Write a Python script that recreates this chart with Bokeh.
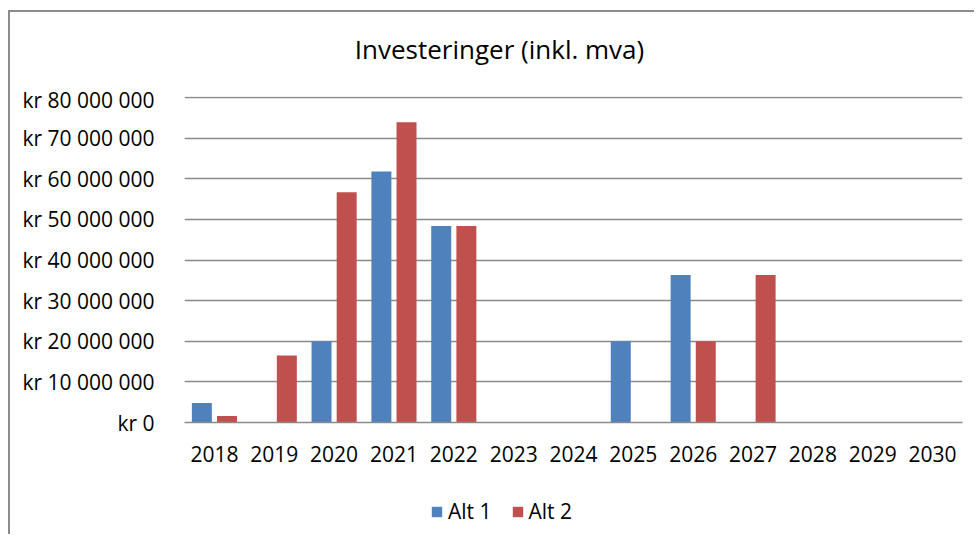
from bokeh.plotting import figure
from bokeh.models import ColumnDataSource, Range1d, FactorRange, FixedTicker, Legend, LegendItem, Label
from bokeh.layouts import column
from bokeh.transform import dodge
from bokeh.embed import file_html
from bokeh.resources import INLINE

years = ["2018", "2019", "2020", "2021", "2022", "2023", "2024",
         "2025", "2026", "2027", "2028", "2029", "2030"]
alt1 = [4.8e6, 0, 20.0e6, 61.8e6, 48.4e6, 0, 0, 20.0e6, 36.3e6, 0, 0, 0, 0]
alt2 = [1.6e6, 16.5e6, 56.7e6, 73.9e6, 48.4e6, 0, 0, 0, 20.0e6, 36.3e6, 0, 0, 0]
y_ticks = [0, 10e6, 20e6, 30e6, 40e6, 50e6, 60e6, 70e6, 80e6]
y_tick_labels = ["kr 0", "kr 10 000 000", "kr 20 000 000", "kr 30 000 000",
                 "kr 40 000 000", "kr 50 000 000", "kr 60 000 000",
                 "kr 70 000 000", "kr 80 000 000"]
series_names = ["Alt 1", "Alt 2"]
series_colors = ["#4F81BD", "#C0504D"]
title_text = "Investeringer (inkl. mva)"

FONT = "Open Sans"
GRID = "#8a8a8a"
BORDER = "2px solid #8c8c8c"
W, HT, H1, H2 = 966, 75, 385, 64


def strip(height):
    f = figure(x_range=Range1d(0, 1), y_range=Range1d(0, 1), width=W, height=height,
               output_backend="svg", toolbar_location=None,
               min_border_left=0, min_border_right=0, min_border_top=0, min_border_bottom=0)
    f.axis.visible = False
    f.grid.visible = False
    f.outline_line_color = None
    f.background_fill_color = "white"
    f.border_fill_color = "white"
    return f


# title strip (top of the chart box)
t = strip(HT)
t.styles = {"border-left": BORDER, "border-top": BORDER,
            "margin-top": "10px", "margin-left": "8px"}
t.add_layout(Label(x=315, y=39, x_units="screen", y_units="screen", text=title_text,
                   text_align="center", text_baseline="middle",
                   text_font=FONT, text_font_size="26px", text_color="black"))

# main bar chart
src = ColumnDataSource(dict(year=years, alt1=alt1, alt2=alt2))
p = figure(x_range=FactorRange(*years, range_padding=0), y_range=Range1d(0, 80.25e6),
           width=W, height=H1, output_backend="svg", toolbar_location=None,
           min_border_left=174, min_border_right=14, min_border_top=11,
           min_border_bottom=48)
p.styles = {"border-left": BORDER, "margin-left": "8px"}

p.vbar(x=dodge("year", -0.21, range=p.x_range), top="alt1", width=0.334,
       source=src, fill_color=series_colors[0], line_color=None)
p.vbar(x=dodge("year", 0.21, range=p.x_range), top="alt2", width=0.334,
       source=src, fill_color=series_colors[1], line_color=None)

p.outline_line_color = None
p.background_fill_color = "white"
p.border_fill_color = "white"
p.xgrid.grid_line_color = None
p.ygrid.grid_line_color = GRID
p.ygrid.grid_line_width = 1.5
p.ygrid.ticker = FixedTicker(ticks=y_ticks)

p.yaxis.ticker = FixedTicker(ticks=y_ticks)
p.yaxis.major_label_overrides = {t_: l for t_, l in zip(y_ticks, y_tick_labels)}
p.yaxis.axis_line_color = None
p.yaxis.major_tick_line_color = None
p.yaxis.minor_tick_line_color = None
p.yaxis.major_label_standoff = 24
p.yaxis.major_label_text_font = FONT
p.yaxis.major_label_text_font_size = "21px"
p.yaxis.major_label_text_color = "black"

p.xaxis.axis_line_color = GRID
p.xaxis.axis_line_width = 1.5
p.xaxis.major_tick_line_color = None
p.xaxis.minor_tick_line_color = None
p.xaxis.major_label_standoff = 17
p.xaxis.major_label_text_font = FONT
p.xaxis.major_label_text_font_size = "21px"
p.xaxis.major_label_text_color = "black"

# legend strip (bottom of the chart box)
q = strip(H2)
q.styles = {"border-left": BORDER, "margin-left": "8px"}
key = ColumnDataSource(dict(x=[0.5], top=[0.0]))
d1 = q.vbar(x="x", top="top", width=0.01, source=key,
            fill_color=series_colors[0], line_color=None)
d2 = q.vbar(x="x", top="top", width=0.01, source=key,
            fill_color=series_colors[1], line_color=None)

lg = Legend(items=[LegendItem(label=series_names[0], renderers=[d1]),
                   LegendItem(label=series_names[1], renderers=[d2])])
lg.orientation = "horizontal"
lg.location = (246, 9)
lg.padding = 0
lg.margin = 0
lg.spacing = 19
lg.glyph_width = 13
lg.glyph_height = 13
lg.label_standoff = 5
lg.label_height = 13
lg.label_text_font = FONT
lg.label_text_font_size = "21px"
lg.label_text_color = "black"
lg.border_line_color = None
lg.background_fill_alpha = 0
q.add_layout(lg, "center")

layout = column(t, p, q, spacing=0)
open("out.html", "w").write(file_html(layout, INLINE))
